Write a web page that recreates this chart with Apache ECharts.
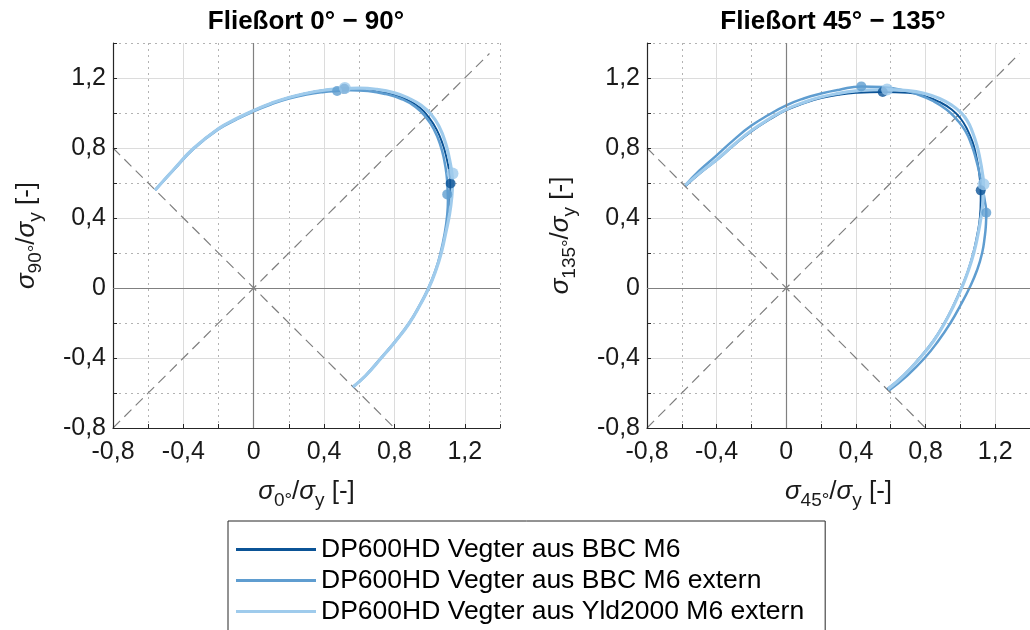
<!DOCTYPE html>
<html>
<head>
<meta charset="utf-8">
<script src="https://cdn.jsdelivr.net/npm/echarts@6/dist/echarts.min.js"></script>
<style>
  html, body { margin: 0; padding: 0; background: #ffffff; }
  #chart { width: 1030px; height: 630px; }
</style>
</head>
<body>
<div id="chart"></div>
<script>
// Series names (legend entries)
const seriesNames = [
  'DP600HD Vegter aus BBC M6',
  'DP600HD Vegter aus BBC M6 extern',
  'DP600HD Vegter aus Yld2000 M6 extern'
];
const seriesColors = ['#0b5396', '#5f9dd0', '#9fcbec'];
const seriesWidths = [2, 2.5, 3.2];
const markerSizes = [10, 10, 12];

const panelTitles = ['Fließort 0° \u2212 90°', 'Fließort 45° \u2212 135°'];
const xNames = ['0°', '45°'];
const yNames = ['90°', '135°'];

// Yield locus, plane 0°-90°
const locus0BBC = [
  [-0.56,0.56],[-0.45,0.683],[-0.34,0.80],[-0.2,0.911],[-0.1,0.967],[0,1.015],[0.1,1.056],
  [0.2,1.089],[0.3,1.113],[0.4,1.13],[0.5,1.138],[0.6,1.138],[0.7,1.128],[0.8,1.105],
  [0.88,1.072],[0.945,1.03],[0.995,0.975],[1.04,0.905],[1.075,0.82],[1.098,0.735],
  [1.112,0.66],[1.118,0.6],[1.118,0.52],[1.108,0.42],[1.09,0.32],[1.064,0.2],[1.035,0.1],
  [0.995,0],[0.944,-0.1],[0.885,-0.2],[0.81,-0.3],[0.725,-0.4],[0.637,-0.5],[0.565,-0.565]
];
const locus0BBCext = [
  [-0.56,0.56],[-0.45,0.68],[-0.34,0.797],[-0.2,0.907],[-0.1,0.962],[0,1.01],[0.1,1.05],
  [0.2,1.082],[0.3,1.105],[0.4,1.12],[0.474,1.126],[0.55,1.13],[0.65,1.125],[0.75,1.108],
  [0.84,1.08],[0.92,1.035],[0.98,0.975],[1.025,0.905],[1.06,0.82],[1.083,0.73],[1.097,0.64],
  [1.102,0.56],[1.104,0.5],[1.1,0.42],[1.087,0.32],[1.062,0.2],[1.033,0.1],[0.993,0],
  [0.942,-0.1],[0.883,-0.2],[0.808,-0.3],[0.723,-0.4],[0.636,-0.5],[0.565,-0.565]
];
const locus0Yld = [
  [-0.56,0.56],[-0.45,0.683],[-0.34,0.80],[-0.2,0.911],[-0.1,0.967],[0,1.015],[0.1,1.056],
  [0.2,1.089],[0.3,1.113],[0.4,1.13],[0.5,1.14],[0.6,1.142],[0.7,1.135],[0.8,1.115],
  [0.88,1.085],[0.95,1.045],[1.01,0.99],[1.055,0.92],[1.09,0.83],[1.112,0.74],[1.126,0.66],
  [1.13,0.6],[1.126,0.52],[1.113,0.42],[1.093,0.32],[1.066,0.2],[1.035,0.1],[0.995,0],
  [0.944,-0.1],[0.885,-0.2],[0.81,-0.3],[0.725,-0.4],[0.637,-0.5],[0.565,-0.565]
];
const points0BBC = [[0.515,1.138],[1.119,0.597]];
const points0BBCext = [[0.474,1.126],[1.10,0.535]];
const points0Yld = [[0.518,1.143],[1.13,0.654]];

// Yield locus, plane 45°-135°
const locus45BBC = [
  [-0.578,0.583],[-0.5,0.652],[-0.4,0.73],[-0.3,0.816],[-0.2,0.895],[-0.1,0.96],[0,1.016],
  [0.1,1.055],[0.2,1.085],[0.3,1.104],[0.4,1.115],[0.554,1.12],[0.7,1.115],[0.8,1.095],
  [0.88,1.063],[0.95,1.02],[1.0,0.97],[1.04,0.905],[1.07,0.835],[1.09,0.76],[1.105,0.68],
  [1.114,0.6],[1.117,0.558],[1.117,0.5],[1.112,0.4],[1.096,0.3],[1.074,0.2],[1.044,0.1],
  [1.005,0],[0.96,-0.1],[0.908,-0.2],[0.845,-0.3],[0.765,-0.4],[0.672,-0.5],[0.58,-0.578]
];
const locus45BBCext = [
  [-0.58,0.587],[-0.5,0.67],[-0.4,0.758],[-0.3,0.848],[-0.2,0.928],[-0.1,0.99],[0,1.044],
  [0.1,1.083],[0.2,1.111],[0.3,1.132],[0.431,1.152],[0.55,1.148],[0.65,1.135],[0.75,1.108],
  [0.84,1.07],[0.92,1.02],[0.98,0.962],[1.03,0.895],[1.065,0.815],[1.09,0.735],[1.11,0.655],
  [1.127,0.575],[1.14,0.5],[1.149,0.43],[1.146,0.35],[1.141,0.3],[1.125,0.2],[1.095,0.1],
  [1.052,0],[1.0,-0.1],[0.943,-0.2],[0.875,-0.3],[0.795,-0.4],[0.695,-0.5],[0.59,-0.585]
];
const locus45Yld = [
  [-0.58,0.587],[-0.5,0.655],[-0.4,0.733],[-0.3,0.82],[-0.2,0.9],[-0.1,0.965],[0,1.021],
  [0.1,1.06],[0.2,1.091],[0.3,1.112],[0.4,1.126],[0.5,1.133],[0.579,1.134],[0.7,1.128],
  [0.8,1.11],[0.88,1.083],[0.95,1.045],[1.0,1.005],[1.04,0.955],[1.07,0.89],[1.095,0.815],
  [1.113,0.735],[1.126,0.66],[1.133,0.593],[1.13,0.5],[1.118,0.4],[1.1,0.3],[1.077,0.2],
  [1.046,0.1],[1.007,0],[0.962,-0.1],[0.91,-0.2],[0.848,-0.3],[0.768,-0.4],[0.675,-0.5],[0.583,-0.578]
];
const points45BBC = [[0.554,1.12],[1.117,0.558]];
const points45BBCext = [[0.431,1.152],[1.149,0.43]];
const points45Yld = [[0.579,1.134],[1.133,0.593]];

// Guide lines: equibiaxial and pure shear diagonals
const diagonalUp = [[-0.8,-0.8],[1.34,1.34]];
const diagonalDown = [[-0.8,0.8],[0.8,-0.8]];

// Axis range and tick spacing
const axisMin = -0.8, axisMax = 1.4, majorStep = 0.4, minorStep = 0.2;

const FONT = '"Liberation Sans", Arial, Helvetica, sans-serif';
const TEXT = '#1a1a1a';

const panels = [
  { loci: [locus0BBC, locus0BBCext, locus0Yld], points: [points0BBC, points0BBCext, points0Yld] },
  { loci: [locus45BBC, locus45BBCext, locus45Yld], points: [points45BBC, points45BBCext, points45Yld] }
];

const grids = [
  { left: 113, top: 43, width: 387, height: 385 },
  { left: 647, top: 43, width: 386, height: 385 }
];

const fmt = v => String(+v.toFixed(1)).replace('.', ',');

function axisTitle(sub) {
  return '{s|σ}{sub|' + sub + '}{n|/}{s|σ}{sub|y}{n| [-]}';
}
const nameRich = {
  s: { fontStyle: 'italic', fontSize: 26, fontFamily: FONT, color: TEXT },
  n: { fontSize: 26, fontFamily: FONT, color: TEXT },
  sub: { fontSize: 19, fontFamily: FONT, color: TEXT, padding: [17, 0, 0, 0] }
};

const xAxes = [], yAxes = [];
function addAxes(list, g, pos, name, rotate, gap) {
  // dotted 0.2 grid
  list.push({
    type: 'value', gridIndex: g, position: pos, min: axisMin, max: axisMax, interval: minorStep,
    axisLine: { show: false }, axisTick: { show: false }, axisLabel: { show: false },
    splitLine: { show: true, lineStyle: { color: '#b3b3b3', width: 1, type: [2, 4] } },
    z: 0
  });
  // solid 0.4 grid with labels
  list.push({
    type: 'value', gridIndex: g, position: pos, min: axisMin, max: axisMax, interval: majorStep,
    axisLine: { show: false }, axisTick: { show: false },
    axisLabel: { show: true, formatter: fmt, fontSize: 25, fontFamily: FONT, color: TEXT,
                 margin: pos === 'left' ? 7 : 12, showMaxLabel: false },
    splitLine: { show: true, showMinLine: false, showMaxLine: false, lineStyle: { color: '#dcdcdc', width: 1 } },
    name: name, nameLocation: 'middle', nameGap: gap, nameRotate: rotate,
    nameTextStyle: { rich: nameRich },
    z: 1
  });
  // axis line with inward ticks every 0.2
  list.push({
    type: 'value', gridIndex: g, position: pos, min: axisMin, max: axisMax, interval: minorStep,
    axisLine: { show: true, onZero: false, lineStyle: { color: '#262626', width: 1.2 } },
    axisTick: { show: true, inside: true, length: 4, lineStyle: { color: '#262626', width: 1 } },
    axisLabel: { show: false }, splitLine: { show: false },
    z: 2
  });
}
for (let g = 0; g < 2; g++) {
  addAxes(xAxes, g, 'bottom', axisTitle(xNames[g]), 0, 46);
  addAxes(yAxes, g, 'left', axisTitle(yNames[g]), 90, 68);
}

const series = [];
panels.forEach((p, g) => {
  const xi = g * 3, yi = g * 3;
  series.push({
    type: 'line', xAxisIndex: xi, yAxisIndex: yi, data: diagonalUp, symbol: 'none', silent: true,
    lineStyle: { color: '#7f7f7f', width: 1.2, type: [10, 6] }, z: 1,
    markLine: {
      silent: true, symbol: 'none', label: { show: false }, animation: false,
      lineStyle: { color: '#808080', width: 1.2, type: 'solid' },
      data: [{ xAxis: 0 }, { yAxis: 0 }]
    }
  });
  series.push({
    type: 'line', xAxisIndex: xi, yAxisIndex: yi, data: diagonalDown, symbol: 'none', silent: true,
    lineStyle: { color: '#7f7f7f', width: 1.2, type: [10, 6] }, z: 1
  });
  p.loci.forEach((d, i) => {
    series.push({
      name: seriesNames[i], type: 'line', xAxisIndex: xi, yAxisIndex: yi, data: d,
      symbol: 'none', smooth: 0.5, color: seriesColors[i],
      lineStyle: { color: seriesColors[i], width: seriesWidths[i] }, z: 3 + i
    });
  });
  p.points.forEach((d, i) => {
    series.push({
      name: seriesNames[i], type: 'scatter', xAxisIndex: xi, yAxisIndex: yi, data: d,
      symbol: 'circle', symbolSize: markerSizes[i], color: seriesColors[i],
      itemStyle: { color: seriesColors[i] }, z: 6 + i
    });
  });
});

const chart = echarts.init(document.getElementById('chart'), null, { renderer: 'canvas' });
chart.setOption({
  animation: false,
  backgroundColor: '#ffffff',
  grid: grids,
  xAxis: xAxes,
  yAxis: yAxes,
  legend: {
    orient: 'vertical', left: 228, top: 521, height: 140,
    data: seriesNames.map((n, i) => ({ name: n, icon: 'rect', itemStyle: { color: seriesColors[i] } })),
    itemWidth: 80, itemHeight: 3, itemGap: 4,
    padding: [15, 21, 16, 8],
    borderColor: '#262626', borderWidth: 1,
    textStyle: { fontSize: 26.5, lineHeight: 26, fontFamily: FONT, color: '#000000' },
    selectedMode: false
  },
  graphic: panelTitles.map((t, g) => ({
    type: 'text',
    x: [306, 833][g], y: 22,
    style: {
      text: t, font: 'bold 26px ' + FONT, fill: '#000000',
      align: 'center', verticalAlign: 'middle', textAlign: 'center', textVerticalAlign: 'middle'
    }
  })),
  series: series
});
</script>
</body>
</html>
